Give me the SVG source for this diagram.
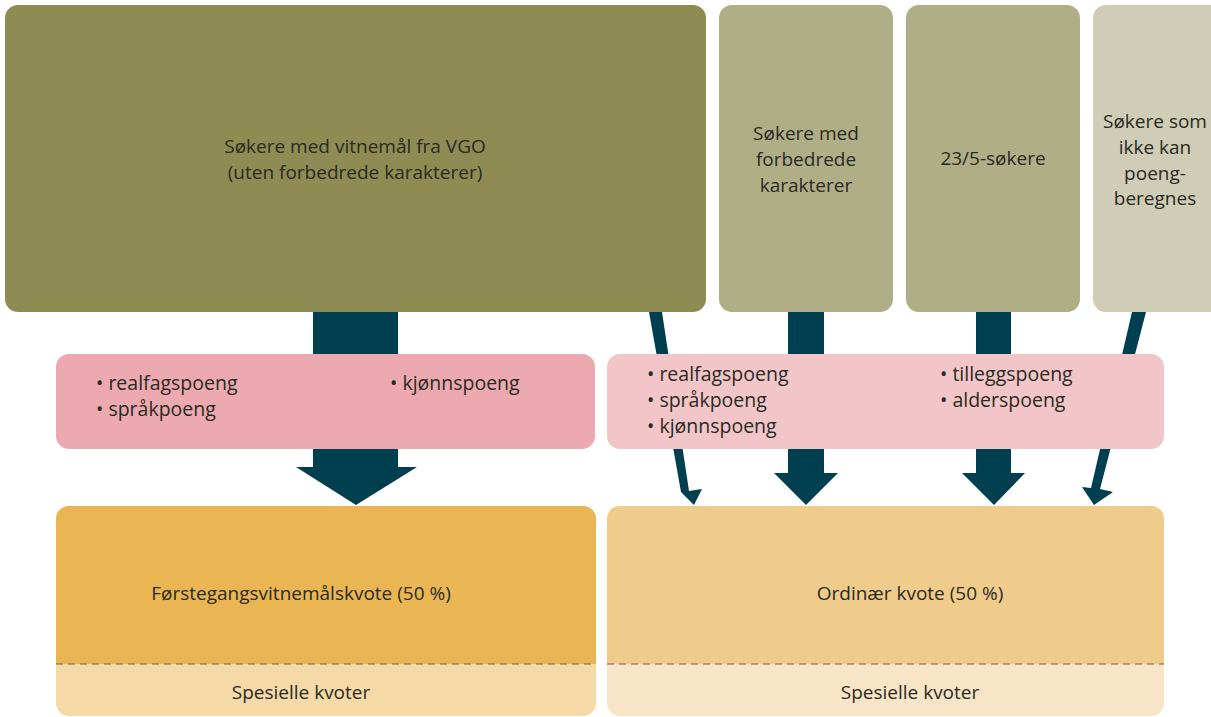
<svg xmlns="http://www.w3.org/2000/svg" width="1211" height="717" viewBox="0 0 1211 717">
<style>
text{font-family:"Open Sans","Liberation Sans",sans-serif;fill:#2a2a22;}
.t{font-size:19px;text-anchor:middle;}
.b{font-size:19.5px;}
.arr{fill:#003f50;}
.dash{stroke:#6a6250;stroke-width:1.2;stroke-dasharray:7 5;fill:none;}
</style>
<rect width="1211" height="717" fill="#ffffff"/>
<g id="src-vgo">
<rect x="5" y="5" width="701" height="307" rx="13" fill="#8e8c53"/>
<text class="t" x="355" y="153">Søkere med vitnemål fra VGO</text>
<text class="t" x="355" y="179">(uten forbedrede karakterer)</text>
</g>
<g id="src-forbedrede">
<rect x="719" y="5" width="174" height="307" rx="13" fill="#b0ae86"/>
<text class="t" x="806" y="140">Søkere med</text>
<text class="t" x="806" y="166">forbedrede</text>
<text class="t" x="806" y="192">karakterer</text>
</g>
<g id="src-23-5">
<rect x="906" y="5" width="174" height="307" rx="13" fill="#b0ae86"/>
<text class="t" x="993" y="165">23/5-søkere</text>
</g>
<g id="src-ikke">
<rect x="1093" y="5" width="140" height="307" rx="13" fill="#cfcdb5"/>
<text class="t" x="1155" y="128">Søkere som</text>
<text class="t" x="1155" y="154">ikke kan</text>
<text class="t" x="1155" y="180">poeng-</text>
<text class="t" x="1155" y="205">beregnes</text>
</g>
<g id="connectors">
<polygon class="arr" points="313,312 398,312 398,467 417,467 356,505 296,467 313,467"/>
<polygon class="arr" points="788,312 824,312 824,473 838,473 806,505 774,473 788,473"/>
<polygon class="arr" points="976,312 1011,312 1011,473 1025,473 994,505 962,473 976,473"/>
<polygon class="arr" points="649,312 662,312 689,491 702,489 694,505 682,493 681,492"/>
<polygon class="arr" points="1132,312 1146,312 1100,489 1113,492 1094,505 1082,487 1091,488"/>
</g>
<g id="points-left">
<rect x="56" y="354" width="539" height="95" rx="13" fill="#eca9b0"/>
<text class="b" x="96" y="390">• realfagspoeng</text>
<text class="b" x="96" y="416">• språkpoeng</text>
<text class="b" x="390" y="390">• kjønnspoeng</text>
</g>
<g id="points-right">
<rect x="607" y="354" width="557" height="95" rx="13" fill="#f2c6c9"/>
<text class="b" x="647" y="381">• realfagspoeng</text>
<text class="b" x="647" y="407">• språkpoeng</text>
<text class="b" x="647" y="433">• kjønnspoeng</text>
<text class="b" x="940" y="381">• tilleggspoeng</text>
<text class="b" x="940" y="407">• alderspoeng</text>
</g>
<g id="kvote-forstegang">
<rect x="56" y="506" width="540" height="210" rx="13" fill="#f5d9a6"/>
<path d="M56,664 V519 a13,13 0 0 1 13,-13 H583 a13,13 0 0 1 13,13 V664 Z" fill="#eab654"/>
<line class="dash" x1="56" y1="664" x2="596" y2="664"/>
<text class="t" x="301" y="600">Førstegangsvitnemålskvote (50 %)</text>
<text class="t" x="301" y="699">Spesielle kvoter</text>
</g>
<g id="kvote-ordinaer">
<rect x="607" y="506" width="557" height="210" rx="13" fill="#f8e4c6"/>
<path d="M607,664 V519 a13,13 0 0 1 13,-13 H1151 a13,13 0 0 1 13,13 V664 Z" fill="#f0cc8c"/>
<line class="dash" x1="607" y1="664" x2="1164" y2="664"/>
<text class="t" x="910" y="600">Ordinær kvote (50 %)</text>
<text class="t" x="910" y="699">Spesielle kvoter</text>
</g>
</svg>
